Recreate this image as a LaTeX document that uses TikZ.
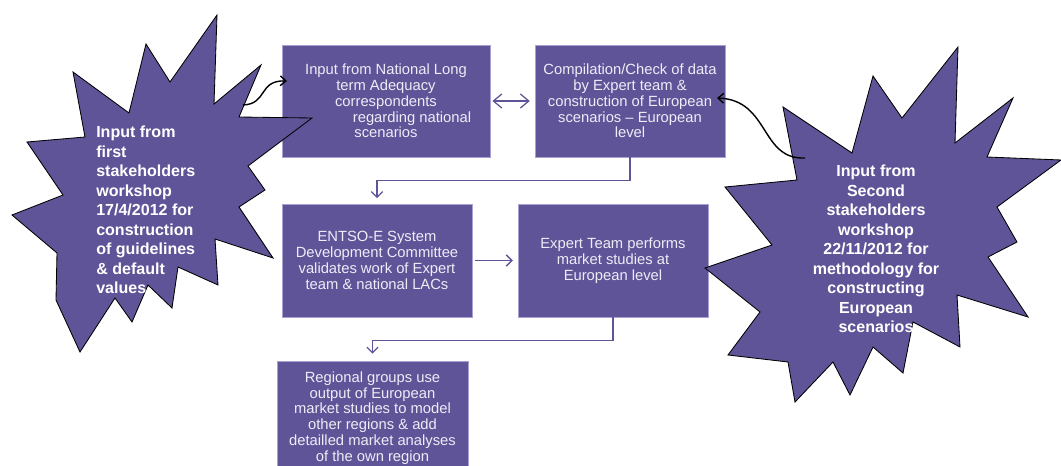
\documentclass[tikz,border=0pt]{standalone}
\usepackage{fontspec}
\setmainfont{Liberation Sans}
\usetikzlibrary{arrows.meta}

\definecolor{boxpurple}{RGB}{96,84,152}
\definecolor{boxedge}{RGB}{170,160,210}
\definecolor{boxtext}{RGB}{238,236,246}

\begin{document}
\begin{tikzpicture}[x=0.025cm,y=-0.025cm,
    stepbox/.style={fill=boxpurple, draw=boxedge, line width=0.4pt, text=boxtext,
        align=center, inner sep=0pt, minimum width=4.75cm, minimum height=2.8cm,
        font=\fontsize{10.5}{11.2}\selectfont},
    flow/.style={draw=boxpurple, line width=0.9pt},
    flowtip/.style={-{Straight Barb[length=4pt,width=8pt]}},
    burst/.style={fill=boxpurple, draw=black, line width=0.6pt, line join=miter},
    bursttext/.style={text=white, inner sep=0pt,
        font=\fontsize{11.4}{13.9}\selectfont\bfseries},
    curvy/.style={draw=black, line width=1pt,
        -{Straight Barb[length=4pt,width=7pt]}}]

    % page
    \useasboundingbox (0,0) rectangle (1061,466);
    \clip (0,0) rectangle (1061,466);

    % Process boxes
    \node[stepbox, minimum width=5.2cm] (natl) at (386,101)
        {Input from National Long\\ term Adequacy\\ correspondents\\
         \hspace*{1.3cm}regarding national\\ scenarios};
    \node[stepbox] (compil) at (630,101)
        {Compilation/Check of data\\ by Expert team \&\\ construction of European\\
         scenarios -- European\\ level};
    \node[stepbox, minimum height=2.825cm] (sdc) at (377,260.5)
        {ENTSO-E System\\ Development Committee\\ validates work of Expert\\
         team \& national LACs};
    \node[stepbox, minimum height=2.825cm] (expert) at (613,260.5)
        {Expert Team performs\\ market studies at\\ European level};
    \node[stepbox, minimum width=4.775cm, minimum height=2.85cm] (regio) at (372.5,418)
        {Regional groups use\\ output of European\\ market studies to model\\
         other regions \& add\\ detailled market analyses\\ of the own region};

    % Flow between boxes
    \draw[flow, {Straight Barb[length=6pt,width=10pt]}-{Straight Barb[length=6pt,width=10pt]},
        shorten <=1.5pt, shorten >=3.5pt] (natl) -- (compil);
    \draw[flow, flowtip, shorten >=4pt] (compil.south) -- ++(0,23) -| (sdc.north);
    \draw[flow, flowtip, shorten <=2pt, shorten >=3.5pt] (sdc) -- (expert);
    \draw[flow, flowtip, shorten >=5pt] (expert.south) -- ++(0,23) -| (regio.north);

    % First workshop (left burst)
    \draw[burst] (73,72) -- (129,113) -- (146,44) -- (170,82) -- (217,15) -- (214,104)
        -- (261,65) -- (239,117) -- (312,118) -- (248,166) -- (265,190) -- (239,207)
        -- (273,258) -- (215,239) -- (218,285) -- (178,267) -- (172,308) -- (148,285)
        -- (132,322) -- (115,298) -- (80,352) -- (56,300) -- (57,253) -- (12,215)
        -- (63,195) -- (27,142) -- (85,137) -- cycle;
    \node[bursttext, align=left, anchor=west] (ws1) at (96,210)
        {Input from\\ first\\ stakeholders\\ workshop\\ 17/4/2012 for\\
         construction\\ of guidelines\\ \& default\\ values};

    % Second workshop (right burst)
    \draw[burst] (783,107) -- (852,153) -- (873,76) -- (902,118) -- (958,47) -- (955,143)
        -- (1013,98) -- (987,157) -- (1061,160) -- (997,207) -- (1017,242) -- (988,257)
        -- (1028,317) -- (957,295) -- (960,347) -- (913,322) -- (903,373) -- (873,347)
        -- (850,395) -- (833,362) -- (795,402) -- (788,362) -- (728,355) -- (760,312)
        -- (705,268) -- (772,245) -- (725,187) -- (797,180) -- cycle;
    \node[bursttext, align=center] (ws2) at (876,249)
        {Input from\\ Second\\ stakeholders\\ workshop\\ 22/11/2012 for\\
         methodology for\\ constructing\\ European\\ scenarios};

    % Workshop inputs
    \coordinate (ws1out) at (243,105);
    \coordinate (natlin) at (287,81);
    \coordinate (ws2out) at (805,158);
    \coordinate (compilin) at (717,98);
    \draw[curvy] (ws1out) .. controls (268,104) and (258,80) .. (natlin);
    \draw[curvy] (ws2out) .. controls (760,160) and (770,100) .. (compilin);
\end{tikzpicture}
\end{document}
